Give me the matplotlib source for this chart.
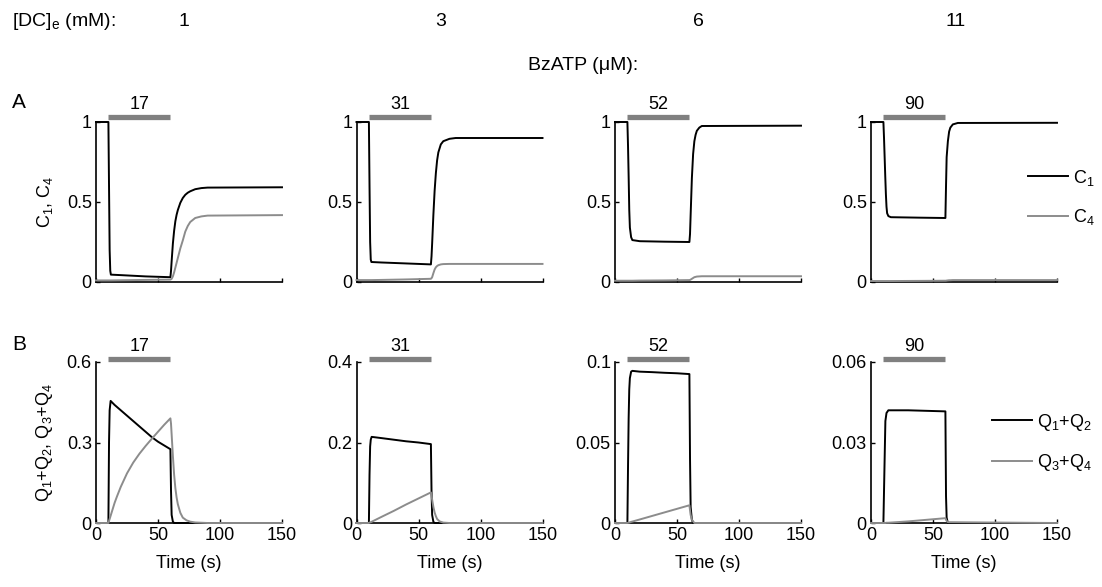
import matplotlib.pyplot as plt
from matplotlib.transforms import blended_transform_factory

plt.rcParams['font.family'] = ['Liberation Sans', 'DejaVu Sans']
plt.rcParams['mathtext.default'] = 'regular'
plt.rcParams['font.size'] = 13

# [DC]e (mM) for each column and BzATP pulse (uM)
dc_conc = ['1', '3', '6', '11']
bzatp = ['17', '31', '52', '90']
pulse = [10, 60]

# ---- row A: C1 and C4 occupancy ----
tA_1 = [0, 10, 10.5, 11, 11.5, 12, 20, 40, 60, 60.5, 61, 62, 63, 64, 65, 66, 68, 70, 72, 74, 76, 80, 85, 90, 150]
C1_1 = [1, 1, 0.6, 0.2, 0.07, 0.046, 0.043, 0.035, 0.03, 0.07, 0.13, 0.24, 0.32, 0.38, 0.42, 0.45,
        0.495, 0.525, 0.545, 0.558, 0.567, 0.58, 0.587, 0.59, 0.592]
C4_1 = [0.01, 0.01, 0.01, 0.01, 0.01, 0.01, 0.011, 0.013, 0.015, 0.017, 0.02, 0.035, 0.06, 0.09, 0.12,
        0.15, 0.21, 0.26, 0.315, 0.35, 0.375, 0.4, 0.41, 0.415, 0.418]

tA_2 = [0, 10, 10.5, 11, 11.5, 12, 20, 40, 60, 60.5, 61, 62, 63, 64, 65, 66, 68, 70, 75, 80, 150]
C1_2 = [1, 1, 0.6, 0.25, 0.14, 0.125, 0.122, 0.116, 0.11, 0.16, 0.24, 0.42, 0.57, 0.68, 0.76, 0.81,
        0.86, 0.88, 0.895, 0.9, 0.9]
C4_2 = [0.012, 0.012, 0.012, 0.012, 0.012, 0.012, 0.013, 0.016, 0.02, 0.024, 0.03, 0.055, 0.078,
        0.092, 0.1, 0.105, 0.11, 0.112, 0.113, 0.113, 0.113]

tA_3 = [0, 10, 10.5, 11, 11.5, 12, 13, 14, 20, 40, 60, 60.5, 61, 62, 63, 64, 65, 66, 68, 70, 150]
C1_3 = [1, 1, 0.85, 0.66, 0.45, 0.34, 0.28, 0.262, 0.255, 0.252, 0.25, 0.3, 0.42, 0.65, 0.8, 0.88,
        0.92, 0.945, 0.965, 0.975, 0.977]
C4_3 = [0.008, 0.008, 0.008, 0.008, 0.008, 0.008, 0.008, 0.008, 0.009, 0.01, 0.012, 0.013, 0.015,
        0.02, 0.025, 0.03, 0.032, 0.034, 0.035, 0.036, 0.036]

tA_4 = [0, 10, 10.5, 11, 11.5, 12, 12.5, 13, 14, 16, 40, 60, 60.5, 61, 62, 63, 64, 66, 70, 150]
C1_4 = [1, 1, 0.9, 0.78, 0.66, 0.55, 0.47, 0.43, 0.412, 0.405, 0.402, 0.4, 0.6, 0.78, 0.88, 0.94,
        0.965, 0.985, 0.994, 0.995]
C4_4 = [0.006, 0.006, 0.006, 0.006, 0.006, 0.006, 0.006, 0.006, 0.006, 0.006, 0.007, 0.008, 0.008,
        0.009, 0.01, 0.011, 0.011, 0.012, 0.012, 0.012]

# ---- row B: Q1+Q2 and Q3+Q4 ----
tB_1 = [0, 10, 10.5, 11, 11.8, 12, 15, 17, 20, 25, 30, 35, 40, 45, 50, 55, 60,
        60.5, 61, 62, 63, 64, 65, 66, 68, 70, 73, 76, 80, 90, 150]
Q12_1 = [0, 0, 0.3, 0.42, 0.455, 0.454, 0.44, 0.432, 0.42, 0.4, 0.38, 0.36, 0.34, 0.32, 0.303, 0.289, 0.275,
         0.12, 0.03, 0.005, 0, 0, 0, 0, 0, 0, 0, 0, 0, 0, 0]
Q34_1 = [0, 0, 0.008, 0.015, 0.027, 0.03, 0.075, 0.1, 0.135, 0.185, 0.225, 0.258, 0.287, 0.314, 0.34, 0.366, 0.39,
         0.37, 0.33, 0.25, 0.18, 0.13, 0.095, 0.07, 0.038, 0.02, 0.01, 0.005, 0.002, 0, 0]

tB_2 = [0, 10, 10.5, 11, 11.5, 12.2, 20, 30, 40, 50, 60, 60.5, 61, 62, 63, 64, 65, 67, 70, 75, 150]
Q12_2 = [0, 0, 0.12, 0.19, 0.207, 0.214, 0.211, 0.207, 0.203, 0.2, 0.196, 0.08, 0.02, 0.003, 0, 0, 0, 0, 0, 0, 0]
Q34_2 = [0, 0, 0.001, 0.0015, 0.002, 0.003, 0.015, 0.03, 0.046, 0.061, 0.076, 0.068, 0.058, 0.04, 0.026,
         0.017, 0.01, 0.004, 0.001, 0, 0]

tB_3 = [0, 10, 10.5, 11, 11.5, 12, 13, 14, 20, 30, 40, 50, 60, 60.5, 61, 62, 63, 64, 150]
Q12_3 = [0, 0, 0.035, 0.065, 0.083, 0.09, 0.094, 0.0945, 0.094, 0.0937, 0.0933, 0.093, 0.0925, 0.04, 0.01,
         0.002, 0, 0, 0]
Q34_3 = [0, 0, 0.0001, 0.0002, 0.0003, 0.0004, 0.0007, 0.0009, 0.0022, 0.0044, 0.0066, 0.0088, 0.011, 0.008,
         0.005, 0.002, 0.001, 0, 0]

tB_4 = [0, 10, 10.5, 11, 11.6, 12.5, 14, 30, 60, 60.5, 61, 62, 150]
Q12_4 = [0, 0, 0.012, 0.024, 0.038, 0.041, 0.042, 0.042, 0.0416, 0.01, 0.002, 0, 0]
Q34_4 = [0, 0, 0, 0, 0, 0.0001, 0.0001, 0.0006, 0.0018, 0.0012, 0.0008, 0.0003, 0]

rowA = [(tA_1, C1_1, C4_1), (tA_2, C1_2, C4_2), (tA_3, C1_3, C4_3), (tA_4, C1_4, C4_4)]
rowB = [(tB_1, Q12_1, Q34_1), (tB_2, Q12_2, Q34_2), (tB_3, Q12_3, Q34_3), (tB_4, Q12_4, Q34_4)]
ytopB = [0.6, 0.4, 0.1, 0.06]
yticklabB = [['0', '0.3', '0.6'], ['0', '0.2', '0.4'], ['0', '0.05', '0.1'], ['0', '0.03', '0.06']]

W, H = 1102, 587
fig = plt.figure(figsize=(W / 100, H / 100), dpi=100)
lefts = [96, 356.5, 615, 871]
gray = '0.55'


def style(ax, ymax, labels):
    for s in ['top', 'right']:
        ax.spines[s].set_visible(False)
    for s in ['left', 'bottom']:
        ax.spines[s].set_linewidth(1.2)
    ax.set_xlim(0, 150)
    ax.set_ylim(0, ymax)
    ax.set_xticks([0, 50, 100, 150])
    ax.set_yticks([0, ymax / 2, ymax])
    ax.set_yticklabels(labels)
    ax.tick_params(direction='in', length=3, width=1, pad=3, labelsize=13)


def pulse_bar(ax, label, ybar, ytxt):
    tr = blended_transform_factory(ax.transData, ax.transAxes)
    ax.plot(pulse, [ybar, ybar], transform=tr, color='0.5', lw=3.8, clip_on=False, solid_capstyle='butt')
    ax.text(sum(pulse) / 2, ytxt, label, transform=tr, ha='center', va='bottom', fontsize=13)


for i in range(4):
    axA = fig.add_axes([lefts[i] / W, 1 - 282 / H, 186 / W, 160 / H])
    t, c1, c4 = rowA[i]
    l1, = axA.plot(t, c1, color='k', lw=1.4, clip_on=False, zorder=3)
    l4, = axA.plot(t, c4, color=gray, lw=1.4, clip_on=False, zorder=3)
    style(axA, 1, ['0', '0.5', '1'])
    axA.set_xticklabels([])
    pulse_bar(axA, bzatp[i], 1.03, 1.055)

    axB = fig.add_axes([lefts[i] / W, 1 - 523 / H, 186 / W, 161 / H])
    t, q12, q34 = rowB[i]
    m1, = axB.plot(t, q12, color='k', lw=1.4, clip_on=False, zorder=3)
    m2, = axB.plot(t, q34, color=gray, lw=1.4, clip_on=False, zorder=3)
    style(axB, ytopB[i], yticklabB[i])
    axB.set_xlabel('Time (s)', fontsize=13, labelpad=8)
    pulse_bar(axB, bzatp[i], 1.02, 1.045)

    if i == 0:
        axA.set_ylabel('C$_1$, C$_4$', fontsize=13)
        axA.yaxis.set_label_coords(-0.22, 0.5)
        axB.set_ylabel('Q$_1$+Q$_2$, Q$_3$+Q$_4$', fontsize=13)
        axB.yaxis.set_label_coords(-0.22, 0.5)
    if i == 3:
        axA.legend([l1, l4], ['C$_1$', 'C$_4$'], loc='center left',
                   bbox_to_anchor=(1028 / W, 1 - 197.5 / H), bbox_transform=fig.transFigure,
                   frameon=False, handlelength=2.2, handletextpad=0.3, labelspacing=1.1,
                   borderpad=0, borderaxespad=0, fontsize=13)
        axB.legend([m1, m2], ['Q$_1$+Q$_2$', 'Q$_3$+Q$_4$'], loc='center left',
                   bbox_to_anchor=(992 / W, 1 - 442.5 / H), bbox_transform=fig.transFigure,
                   frameon=False, handlelength=2.2, handletextpad=0.3, labelspacing=1.1,
                   borderpad=0, borderaxespad=0, fontsize=13)

# header texts
fig.text(12 / W, 1 - 22 / H, '[DC]$_e$ (mM):', va='center', fontsize=14)
for x, s in zip([184, 441, 698, 956], dc_conc):
    fig.text(x / W, 1 - 22 / H, s, ha='center', va='center', fontsize=14)
fig.text(583 / W, 1 - 65 / H, 'BzATP (μM):', ha='center', va='center', fontsize=14)
fig.text(12 / W, 1 - 103 / H, 'A', va='center', fontsize=15)
fig.text(12 / W, 1 - 345 / H, 'B', va='center', fontsize=15)

fig.savefig('out.png', dpi=100)
